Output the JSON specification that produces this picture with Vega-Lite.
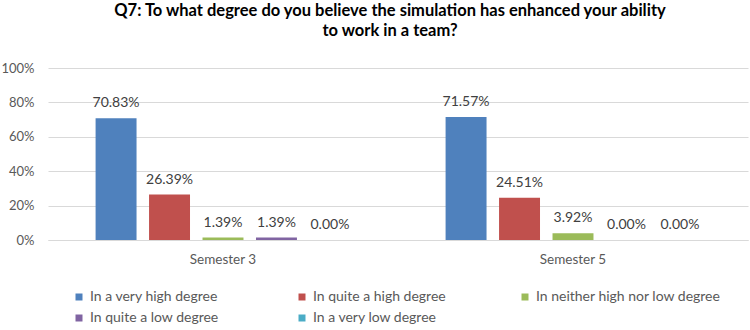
{
  "$schema": "https://vega.github.io/schema/vega-lite/v6.json",
  "width": 700,
  "height": 172,
  "autosize": {"type": "none"},
  "padding": {"left": 48, "top": 68, "right": 2, "bottom": 90},
  "background": "white",
  "config": {"view": {"stroke": null}, "font": "Lato"},
  "title": {
    "text": ["Q7: To what degree do you believe the simulation has enhanced your ability", "to work in a team?"],
    "font": "Lato",
    "fontSize": 16.5,
    "fontWeight": "bold",
    "color": "#000000",
    "anchor": "middle",
    "frame": "group",
    "dx": -8,
    "offset": 23,
    "lineHeight": 20
  },
  "data": {
    "values": [
      {"semester": "Semester 3", "response": "In a very high degree", "share": 0.7083},
      {"semester": "Semester 3", "response": "In quite a high degree", "share": 0.2639},
      {"semester": "Semester 3", "response": "In neither high nor low degree", "share": 0.0139},
      {"semester": "Semester 3", "response": "In quite a low degree", "share": 0.0139},
      {"semester": "Semester 3", "response": "In a very low degree", "share": 0.0},
      {"semester": "Semester 5", "response": "In a very high degree", "share": 0.7157},
      {"semester": "Semester 5", "response": "In quite a high degree", "share": 0.2451},
      {"semester": "Semester 5", "response": "In neither high nor low degree", "share": 0.0392},
      {"semester": "Semester 5", "response": "In quite a low degree", "share": 0.0},
      {"semester": "Semester 5", "response": "In a very low degree", "share": 0.0}
    ]
  },
  "encoding": {
    "x": {
      "field": "semester",
      "type": "nominal",
      "scale": {"paddingInner": 0, "paddingOuter": 0},
      "axis": {
        "title": null,
        "labelAngle": 0,
        "ticks": false,
        "domainColor": "#d9d9d9",
        "labelPadding": 12,
        "labelFontSize": 13.5,
        "labelColor": "#595959",
        "grid": false
      }
    },
    "xOffset": {
      "field": "response",
      "type": "nominal",
      "sort": ["In a very high degree", "In quite a high degree", "In neither high nor low degree", "In quite a low degree", "In a very low degree"],
      "scale": {"paddingInner": 0.234, "paddingOuter": 0.89}
    },
    "y": {
      "field": "share",
      "type": "quantitative",
      "scale": {"domain": [0, 1]},
      "axis": {
        "title": null,
        "values": [0, 0.2, 0.4, 0.6, 0.8, 1],
        "format": ".0%",
        "gridColor": "#d9d9d9",
        "domain": false,
        "ticks": false,
        "labelPadding": 14,
        "labelFontSize": 13,
        "labelColor": "#595959"
      }
    }
  },
  "layer": [
    {
      "mark": {"type": "bar"},
      "encoding": {
        "color": {
          "field": "response",
          "type": "nominal",
          "scale": {
            "domain": ["In a very high degree", "In quite a high degree", "In neither high nor low degree", "In quite a low degree", "In a very low degree"],
            "range": ["#4F81BD", "#C0504D", "#9BBB59", "#8064A2", "#4BACC6"]
          },
          "legend": {
            "orient": "none",
            "legendX": 24,
            "legendY": 222,
            "direction": "horizontal",
            "columns": 3,
            "gridAlign": "all",
            "columnPadding": 20,
            "rowPadding": 7,
            "symbolType": "square",
            "symbolSize": 49,
            "symbolStrokeWidth": 0,
            "labelFontSize": 14,
            "labelLimit": 400,
            "labelColor": "#595959",
            "labelOffset": 4,
            "title": null
          }
        }
      }
    },
    {
      "mark": {"type": "text", "baseline": "alphabetic", "dy": -11, "fontSize": 14, "color": "#404040"},
      "encoding": {
        "text": {"field": "share", "type": "quantitative", "format": ".2%"}
      }
    }
  ]
}
